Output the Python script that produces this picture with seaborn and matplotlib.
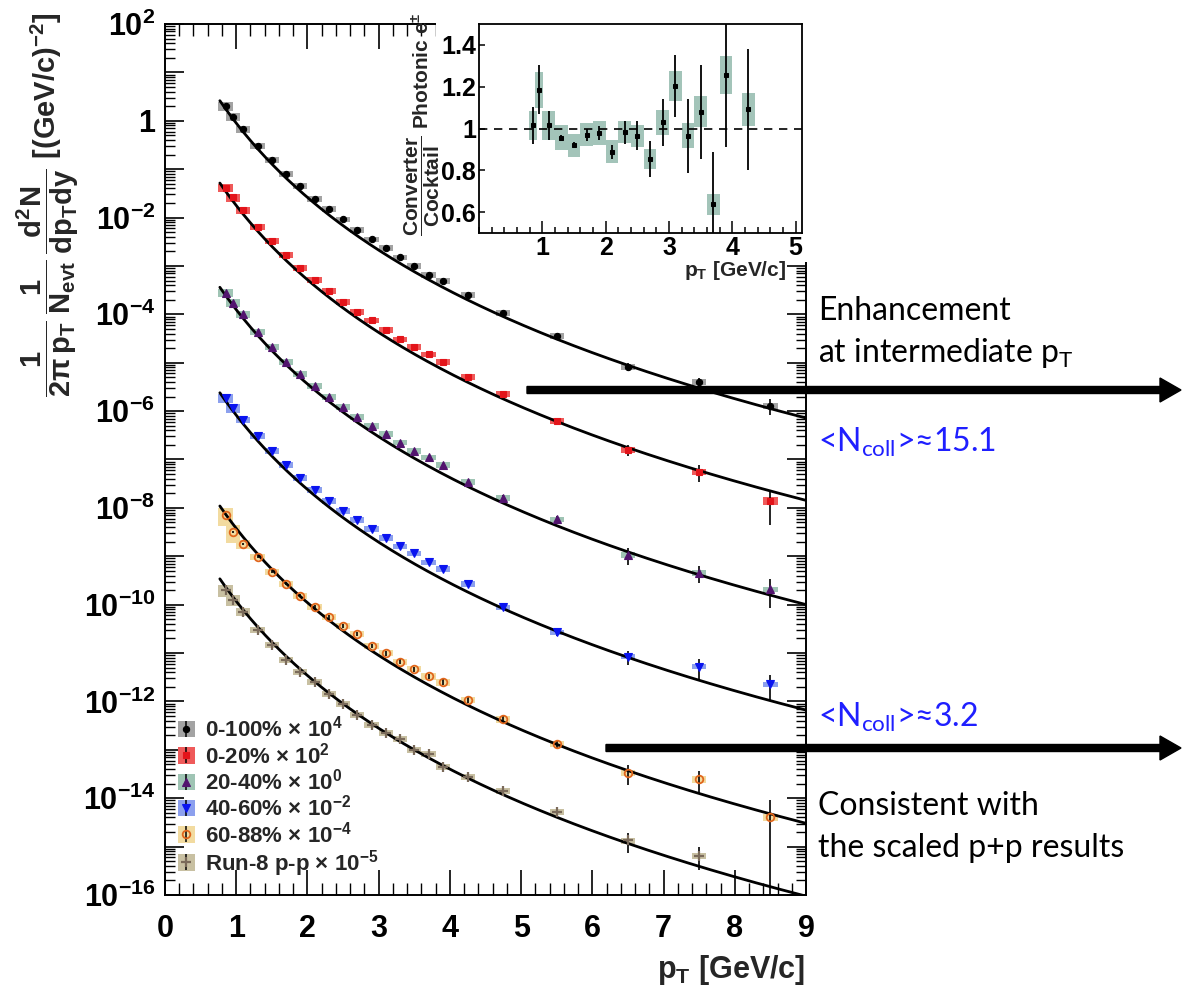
import numpy as np
import pandas as pd
import matplotlib
matplotlib.use("Agg")
import matplotlib.pyplot as plt
import seaborn as sns
from matplotlib.patches import FancyArrow, Patch
from matplotlib.lines import Line2D
from matplotlib.legend_handler import HandlerTuple
from matplotlib.ticker import FixedLocator, LogLocator, MultipleLocator, FuncFormatter, NullFormatter

# ---------------- data ----------------
pt_bins = [0.85, 0.95, 1.1, 1.3, 1.5, 1.7, 1.9, 2.1, 2.3, 2.5, 2.7, 2.9, 3.1, 3.3,
           3.5, 3.7, 3.9, 4.25, 4.75, 5.5, 6.5, 7.5, 8.5]

# raw invariant yields (before the legend scale factors)
yield_0_100 = [2.02e-4, 1.22e-4, 6.67e-5, 3.06e-5, 1.55e-5, 8.07e-6, 4.56e-6, 2.45e-6,
               1.51e-6, 9.23e-7, 5.55e-7, 3.56e-7, 2.39e-7, 1.51e-7, 1.01e-7, 6.61e-8,
               4.97e-8, 2.52e-8, 1.08e-8, 3.58e-9, 8.32e-10, 4.07e-10, 1.29e-10]
yield_0_20 = [4.15e-4, 2.60e-4, 1.41e-4, 6.49e-5, 3.32e-5, 1.69e-5, 9.23e-6, 5.21e-6,
              3.08e-6, 1.83e-6, 1.14e-6, 7.48e-7, 4.83e-7, 3.08e-7, 2.15e-7, 1.48e-7,
              1.05e-7, 5.09e-8, 2.26e-8, 6.37e-9, 1.58e-9, 5.62e-10, 1.41e-10]
yield_20_40 = [2.81e-4, 1.75e-4, 1.00e-4, 4.40e-5, 2.15e-5, 1.04e-5, 5.87e-6, 3.32e-6,
               1.96e-6, 1.22e-6, 7.59e-7, 4.94e-7, 3.39e-7, 2.24e-7, 1.51e-7, 1.10e-7,
               7.76e-8, 3.44e-8, 1.61e-8, 5.83e-9, 1.07e-9, 4.60e-10, 2.09e-10]
yield_40_60 = [1.87e-4, 1.16e-4, 6.58e-5, 3.08e-5, 1.51e-5, 7.73e-6, 4.17e-6, 2.36e-6,
               1.40e-6, 8.67e-7, 5.65e-7, 3.68e-7, 2.40e-7, 1.62e-7, 1.15e-7, 7.59e-8,
               5.50e-8, 2.69e-8, 8.87e-9, 2.70e-9, 8.47e-10, 5.26e-10, 2.28e-10]
yield_60_88 = [7.16e-5, 3.16e-5, 1.78e-5, 9.70e-6, 4.76e-6, 2.69e-6, 1.52e-6, 9.02e-7,
               5.60e-7, 3.65e-7, 2.49e-7, 1.41e-7, 1.00e-7, 6.61e-8, 4.68e-8, 3.31e-8,
               2.51e-8, 1.08e-8, 4.27e-9, 1.33e-9, 3.40e-10, 2.48e-10, 4.07e-11]
yield_pp = [2.02e-5, 1.26e-5, 7.10e-6, 3.01e-6, 1.48e-6, 7.23e-7, 4.09e-7, 2.58e-7,
            1.44e-7, 8.91e-8, 5.28e-8, 3.29e-8, 2.28e-8, 1.66e-8, 1.00e-8, 8.26e-9,
            4.39e-9, 2.81e-9, 1.42e-9, 5.16e-10, 1.34e-10, 6.46e-11]

# relative statistical errors
stat_0_100 = [0.03, 0.03, 0.03, 0.03, 0.03, 0.03, 0.03, 0.03, 0.03, 0.04, 0.04, 0.04,
              0.05, 0.05, 0.05, 0.06, 0.06, 0.07, 0.08, 0.10, 0.20, 0.18, 0.35]
stat_0_20 = [0.03, 0.03, 0.03, 0.03, 0.03, 0.03, 0.03, 0.04, 0.04, 0.04, 0.05, 0.05,
             0.05, 0.06, 0.06, 0.07, 0.07, 0.08, 0.10, 0.12, 0.25, 0.38, 0.68]
stat_20_40 = [0.04, 0.04, 0.04, 0.04, 0.04, 0.04, 0.05, 0.05, 0.05, 0.06, 0.06, 0.06,
              0.07, 0.08, 0.08, 0.09, 0.10, 0.11, 0.13, 0.16, 0.38, 0.38, 0.60]
stat_40_60 = [0.04, 0.04, 0.04, 0.04, 0.05, 0.05, 0.05, 0.05, 0.06, 0.06, 0.07, 0.07,
              0.08, 0.08, 0.09, 0.10, 0.10, 0.12, 0.14, 0.18, 0.32, 0.45, 0.55]
stat_60_88 = [0.06, 0.06, 0.06, 0.06, 0.06, 0.07, 0.07, 0.08, 0.08, 0.09, 0.09, 0.10,
              0.11, 0.12, 0.12, 0.13, 0.14, 0.15, 0.17, 0.20, 0.45, 0.50, 1.30]
stat_pp = [0.05, 0.05, 0.05, 0.05, 0.05, 0.05, 0.06, 0.06, 0.06, 0.07, 0.07, 0.08,
           0.08, 0.09, 0.10, 0.10, 0.11, 0.13, 0.15, 0.22, 0.45, 0.50]

# relative systematic errors (boxes)
sys_0_100 = [0.20, 0.20, 0.16] + [0.13] * 20
sys_0_20 = [0.18, 0.18, 0.15] + [0.13] * 19 + [0.20]
sys_20_40 = [0.18, 0.18, 0.15] + [0.13] * 20
sys_40_60 = [0.20, 0.20, 0.15] + [0.13] * 20
sys_60_88 = [0.40, 0.40, 0.22] + [0.15] * 20
sys_pp = [0.28, 0.24, 0.18] + [0.14] * 19

labels = [r"0-100% × 10$^{4}$", r"0-20% × 10$^{2}$", r"20-40% × 10$^{0}$",
          r"40-60% × 10$^{-2}$", r"60-88% × 10$^{-4}$", r"Run-8 p-p × 10$^{-5}$"]
scale_factors = [1e4, 1e2, 1e0, 1e-2, 1e-4, 1e-5]
ncoll = [7.6, 15.1, 10.6, 7.0, 3.2, 1.0]

# p+p fit (modified Hagedorn) used for the scaled curves
fit_A, fit_p0, fit_n = 4.97e-3, 1.0, 8.72
fit_pt_min, fit_pt_max = 0.77, 9.0

# inset: Converter / Cocktail ratio of photonic electrons
inset_pt = [0.85, 0.95, 1.1, 1.3, 1.5, 1.7, 1.9, 2.1, 2.3, 2.5, 2.7, 2.9, 3.1, 3.3,
            3.5, 3.7, 3.9, 4.25]
inset_ratio = [1.015, 1.185, 1.015, 0.955, 0.92, 0.97, 0.978, 0.888, 0.982, 0.965,
               0.853, 1.029, 1.204, 0.965, 1.08, 0.638, 1.257, 1.092]
inset_stat = [0.09, 0.118, 0.07, 0.012, 0.015, 0.03, 0.035, 0.035, 0.055, 0.07,
              0.085, 0.113, 0.147, 0.177, 0.225, 0.25, 0.345, 0.29]
inset_sys = [0.07, 0.085, 0.07, 0.06, 0.055, 0.055, 0.058, 0.055, 0.053, 0.052,
             0.048, 0.06, 0.072, 0.06, 0.075, 0.05, 0.09, 0.08]
inset_bin_halfwidth = [0.065, 0.065] + [0.1] * 16

# ---------------- styling ----------------
sns.set_theme(style="ticks")
plt.rcParams["font.family"] = ["Liberation Sans", "DejaVu Sans"]
plt.rcParams["font.weight"] = "bold"
plt.rcParams["mathtext.default"] = "regular"
plt.rcParams["axes.linewidth"] = 1.4
plt.rcParams["axes.edgecolor"] = "black"

styles = [
    dict(marker="o", ms=4.5, fc="#000000", ec="#000000", mew=0.8, box="#a3a3a3"),
    dict(marker="s", ms=5.0, fc="#e3141a", ec="#e3141a", mew=0.8, box="#ef5a5a"),
    dict(marker="^", ms=6.0, fc="#52146e", ec="#52146e", mew=0.8, box="#9fc4b4"),
    dict(marker="v", ms=6.0, fc="#0a14f0", ec="#0a14f0", mew=0.8, box="#8ca0ee"),
    dict(marker="o", ms=5.5, fc="none", ec="#e0661c", mew=1.3, box="#f2dba0"),
    dict(marker="+", ms=7.5, fc="#7a6a5a", ec="#7a6a5a", mew=1.6, box="#c8c0a2"),
]
yields = [yield_0_100, yield_0_20, yield_20_40, yield_40_60, yield_60_88, yield_pp]
stats = [stat_0_100, stat_0_20, stat_20_40, stat_40_60, stat_60_88, stat_pp]
syss = [sys_0_100, sys_0_20, sys_20_40, sys_40_60, sys_60_88, sys_pp]

W, H = 1182, 994
def fx(px):
    return px / W
def fy(py):
    return 1 - py / H

fig = plt.figure(figsize=(W / 100, H / 100), dpi=100)
fig.patch.set_facecolor("white")

ax = fig.add_axes([fx(165), fy(895), (806 - 165) / W, (895 - 24) / H])
ax.set_yscale("log")
ax.set_facecolor("white")

grid = np.linspace(fit_pt_min, fit_pt_max, 400)
pp_curve = fit_A * (1 + grid / fit_p0) ** (-fit_n)

for yv, st, sy, sc, nc, sty in zip(yields, stats, syss, scale_factors, ncoll, styles):
    n = len(yv)
    x = np.array(pt_bins[:n])
    y = np.array(yv) * sc
    st = np.array(st)
    sy = np.array(sy)
    # systematic boxes
    ax.bar(x, y * 2 * sy, bottom=y * (1 - sy), width=0.2, color=sty["box"],
           linewidth=0, zorder=2)
    # statistical error bars
    ax.vlines(x, np.maximum(y * (1 - st), 1e-18), y * (1 + st), color="black",
              lw=1.2, zorder=3)
    # scaled p+p fit curve
    dfc = pd.DataFrame({"pt": grid, "y": pp_curve * nc * sc})
    sns.lineplot(data=dfc, x="pt", y="y", ax=ax, color="black", lw=2.0,
                 estimator=None, errorbar=None, zorder=4)
    # data points
    dfp = pd.DataFrame({"pt": x, "y": y})
    sns.lineplot(data=dfp, x="pt", y="y", ax=ax, linestyle="", marker=sty["marker"],
                 markersize=sty["ms"], markerfacecolor=sty["fc"],
                 markeredgecolor=sty["ec"], markeredgewidth=sty["mew"],
                 color=sty["ec"], estimator=None, errorbar=None, zorder=5)

ax.set_xlim(0, 9)
ax.set_ylim(1e-16, 1e2)
ax.set_xlabel("")
ax.set_ylabel("")

ax.xaxis.set_major_locator(MultipleLocator(1))
ax.xaxis.set_minor_locator(MultipleLocator(0.2))
ax.yaxis.set_major_locator(FixedLocator(10.0 ** np.arange(-16, 3)))
ax.yaxis.set_minor_locator(LogLocator(base=10, subs=np.arange(2, 10), numticks=400))
ax.yaxis.set_minor_formatter(NullFormatter())

def ylab(v, pos):
    e = int(round(np.log10(v)))
    if e % 2:
        return ""
    if e == 0:
        return "1"
    return r"$10^{%d}$" % e

ax.yaxis.set_major_formatter(FuncFormatter(ylab))
ax.tick_params(axis="both", which="both", direction="in", top=True, right=True,
               colors="black", width=1.2)
ax.tick_params(axis="y", which="major", length=14, labelsize=22, pad=7)
ax.tick_params(axis="y", which="minor", length=7, width=1.0)
ax.tick_params(axis="x", which="major", length=18, labelsize=22, pad=14)
ax.tick_params(axis="x", which="minor", length=8.5, width=1.0)
for sp in ax.spines.values():
    sp.set_visible(True)
    sp.set_linewidth(1.4)

# legend
handles = []
for sty in styles:
    box = Patch(facecolor=sty["box"], edgecolor="none")
    bar = Line2D([], [], color="black", marker="|", markersize=12, mew=1.1, linestyle="")
    mk = Line2D([], [], linestyle="", marker=sty["marker"], markersize=sty["ms"],
                markerfacecolor=sty["fc"], markeredgecolor=sty["ec"],
                markeredgewidth=sty["mew"])
    handles.append((box, bar, mk))
ax.legend(handles, labels, handler_map={tuple: HandlerTuple(ndivide=1, pad=0)},
          loc="upper left", bbox_to_anchor=((178 - 165) / 641, (895 - 716) / 871),
          frameon=False, prop={"size": 16, "weight": "bold"}, handlelength=0.75,
          handleheight=0.75, labelspacing=0.02, handletextpad=0.45,
          borderaxespad=0, borderpad=0)

# axis titles
fig.text(fx(48), fy(205),
         r"$\dfrac{1}{2\pi\,p_{T}}\,\dfrac{1}{N_{evt}}\,\dfrac{d^{2}N}{dp_{T}dy}$ [(GeV/c)$^{-2}$]",
         rotation=90, ha="center", va="center", fontsize=21, fontweight="bold")
fig.text(fx(805), fy(970), r"p$_{T}$ [GeV/c]", ha="right", va="center",
         fontsize=22, fontweight="bold")

# ---------------- inset ----------------
pad = fig.add_axes([fx(436), fy(262), (808 - 436) / W, 262 / H])
pad.set_facecolor("white")
pad.set_xticks([])
pad.set_yticks([])
for sp in pad.spines.values():
    sp.set_visible(False)

ins = fig.add_axes([fx(479), fy(233), (802 - 479) / W, (233 - 24) / H])
ins.set_facecolor("white")
ix = np.array(inset_pt)
iy = np.array(inset_ratio)
isy = np.array(inset_sys)
ist = np.array(inset_stat)
ins.bar(ix, 2 * isy, bottom=iy - isy, width=2 * np.array(inset_bin_halfwidth),
        color="#a3c4b9", linewidth=0, zorder=2)
ins.axhline(1.0, color="black", lw=1.2, ls=(0, (5, 4)), zorder=3)
ins.vlines(ix, iy - ist, iy + ist, color="black", lw=1.3, zorder=4)
sns.lineplot(x=ix, y=iy, ax=ins, linestyle="", marker="s", markersize=3.5,
             markerfacecolor="black", markeredgecolor="black", color="black",
             estimator=None, errorbar=None, zorder=5)
ins.set_xlim(0, 5.1)
ins.set_ylim(0.5, 1.5)
ins.set_xlabel("")
ins.set_ylabel("")
ins.xaxis.set_major_locator(FixedLocator([1, 2, 3, 4, 5]))
ins.xaxis.set_minor_locator(MultipleLocator(0.2))
ins.yaxis.set_major_locator(FixedLocator([0.6, 0.8, 1.0, 1.2, 1.4]))
ins.yaxis.set_major_formatter(FuncFormatter(lambda v, p: "1" if abs(v - 1) < 1e-9 else "%.1f" % v))
ins.tick_params(axis="both", which="both", direction="in", colors="black", width=1.1)
ins.tick_params(axis="y", which="major", length=4, labelsize=18, pad=2)
ins.tick_params(axis="x", which="major", length=9, labelsize=18, pad=2)
ins.tick_params(axis="x", which="minor", length=4.5)
for sp in ins.spines.values():
    sp.set_visible(True)
    sp.set_linewidth(1.3)

fig.text(fx(422), fy(124), r"$\dfrac{Converter}{Cocktail}$ Photonic e$^{\pm}$",
         rotation=90, ha="center", va="center", fontsize=15, fontweight="bold")
fig.text(fx(786), fy(270), r"p$_{T}$ [GeV/c]", ha="right", va="center",
         fontsize=15, fontweight="bold")

# ---------------- annotations on the right ----------------
ann_font = dict(family=["Lato", "DejaVu Sans"], fontweight="normal", fontsize=23)
fig.text(fx(818), fy(320), "Enhancement", ha="left", va="baseline", color="black", **ann_font)
fig.text(fx(818), fy(362), r"at intermediate p$_{T}$", ha="left", va="baseline",
         color="black", **ann_font)
fig.text(fx(818), fy(452), r"<N$_{coll}$>≈15.1", ha="left", va="baseline",
         color="#1f1fff", **ann_font)
fig.text(fx(818), fy(727), r"<N$_{coll}$>≈3.2", ha="left", va="baseline",
         color="#1f1fff", **ann_font)
fig.text(fx(818), fy(815), "Consistent with", ha="left", va="baseline",
         color="black", **ann_font)
fig.text(fx(818), fy(857), "the scaled p+p results", ha="left", va="baseline",
         color="black", **ann_font)

for x0, yy in [(527, 390), (606, 748)]:
    arr = FancyArrow(fx(x0), fy(yy), (1181 - x0) / W, 0, width=7 / H,
                     head_width=24 / H, head_length=21 / W,
                     length_includes_head=True, color="black",
                     transform=fig.transFigure)
    fig.add_artist(arr)

fig.savefig("out.png", dpi=100)
